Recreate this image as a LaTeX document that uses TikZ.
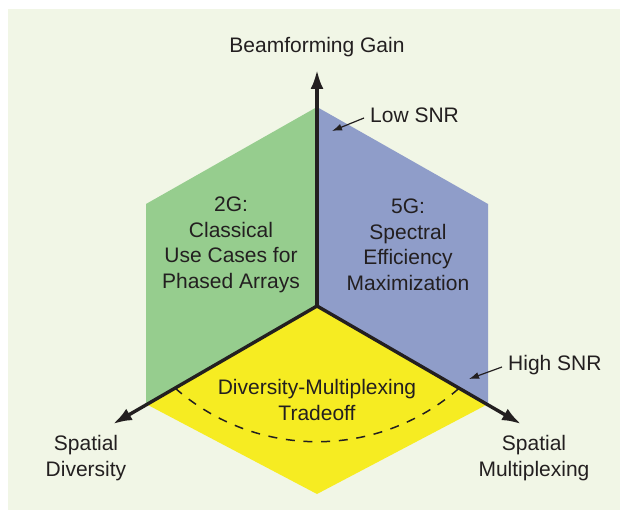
\documentclass[tikz,border=0pt]{standalone}
\usepackage{fontspec}
\setmainfont{Liberation Sans}
\usetikzlibrary{arrows.meta}

\definecolor{bgcream}{RGB}{241,246,230}
\definecolor{gsector}{RGB}{150,205,142}
\definecolor{bsector}{RGB}{143,157,201}
\definecolor{ysector}{RGB}{246,236,34}
\definecolor{inkgray}{RGB}{35,31,32}

\begin{document}
\begin{tikzpicture}[x=1pt,y=1pt]
        \useasboundingbox (0,0) rectangle (620,515);
        \fill[bgcream] (8,5) rectangle (620,506);

        % hexagon corners and axis ends
        \coordinate (o) at (317,209);
        \coordinate (top) at (317,408);
        \coordinate (ul) at (146,311);
        \coordinate (ll) at (146,111);
        \coordinate (bot) at (317,21);
        \coordinate (lr) at (488,111);
        \coordinate (ur) at (488,311);
        \coordinate (beamtip) at (317,445);
        \coordinate (divtip) at (113,91);
        \coordinate (muxtip) at (521,91);

        \fill[gsector] (o) -- (top) -- (ul) -- (ll) -- cycle;
        \fill[bsector] (o) -- (top) -- (ur) -- (lr) -- cycle;
        \fill[ysector] (o) -- (ll) -- (bot) -- (lr) -- cycle;

        \begin{scope}[
            lbl/.style={text=inkgray, align=center, font=\fontsize{21}{25.5}\selectfont},
            snr/.style={text=inkgray, anchor=west, inner sep=0pt, font=\fontsize{21}{25.5}\selectfont}]
            \node[lbl] (beam) at (317,468) {Beamforming Gain};
            \node[lbl] (div) at (86,57) {Spatial\\Diversity};
            \node[lbl] (mux) at (534,57) {Spatial\\Multiplexing};
            \node[lbl] (twog) at (231,270) {2G:\\Classical\\Use Cases for\\Phased Arrays};
            \node[lbl] (fiveg) at (408,270) {5G:\\Spectral\\Efficiency\\Maximization};
            \node[lbl] (dmt) at (317,115) {Diversity-Multiplexing\\Tradeoff};
            \node[snr] (low) at (370,400) {Low SNR};
            \node[snr] (high) at (508,150) {High SNR};
        \end{scope}

        \coordinate (lowtip) at (332,384);
        \coordinate (hightip) at (469,136);

        \begin{scope}[
            every edge/.style={draw=inkgray, line width=3.4pt}]
            \path [-{Latex[length=19pt,width=13pt]}] (o) edge (beamtip);
            \path [-{Latex[length=19pt,width=13pt]}] (o) edge (divtip);
            \path [-{Latex[length=19pt,width=13pt]}] (o) edge (muxtip);
        \end{scope}

        \begin{scope}[
            every edge/.style={draw=inkgray, line width=1.2pt}]
            \path [-{Latex[length=10pt,width=7pt]}] ([xshift=-6pt,yshift=-3pt]low.west) edge (lowtip);
            \path [-{Latex[length=10pt,width=7pt]}] ([xshift=-6pt,yshift=-2pt]high.west) edge (hightip);
        \end{scope}

        \draw[inkgray, line width=1.5pt, dash pattern=on 9pt off 8.7pt] (175,127) arc (228.6:311.3:215);

        \end{tikzpicture}
\end{document}
